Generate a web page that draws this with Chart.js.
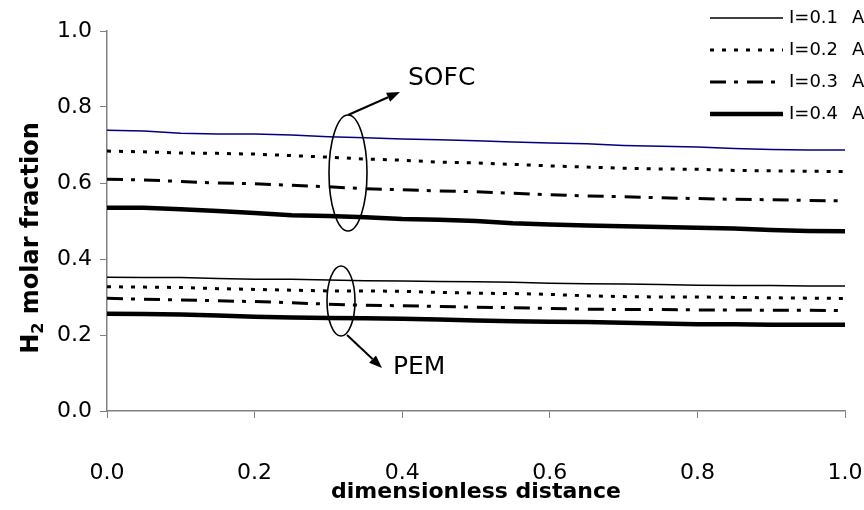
<!DOCTYPE html>
<html>
<head>
<meta charset="utf-8">
<script src="https://cdn.jsdelivr.net/npm/chart.js@4/dist/chart.umd.min.js"></script>
<style>
  html, body { margin: 0; padding: 0; background: #fff; }
  #chart { display: block; }
</style>
</head>
<body>
<canvas id="chart" width="864" height="510"></canvas>
<script>
// dimensionless distance along the channel
const distance = [0, 0.05, 0.1, 0.15, 0.2, 0.25, 0.3, 0.35, 0.4, 0.45, 0.5,
                  0.55, 0.6, 0.65, 0.7, 0.75, 0.8, 0.85, 0.9, 0.95, 1.0];

const currentLabels = ['I=0.1', 'I=0.2', 'I=0.3', 'I=0.4'];
const currentUnit = 'A/cm²';

// SOFC, H2 molar fraction
const sofcI01 = [0.739, 0.737, 0.731, 0.729, 0.729, 0.726, 0.722, 0.719, 0.716, 0.714, 0.711,
                 0.708, 0.705, 0.703, 0.699, 0.697, 0.695, 0.691, 0.688, 0.687, 0.687];
const sofcI02 = [0.684, 0.682, 0.679, 0.678, 0.676, 0.672, 0.668, 0.663, 0.660, 0.655, 0.653,
                 0.649, 0.645, 0.642, 0.639, 0.637, 0.636, 0.633, 0.632, 0.631, 0.630];
const sofcI03 = [0.610, 0.608, 0.604, 0.600, 0.598, 0.594, 0.590, 0.585, 0.582, 0.579, 0.577,
                 0.573, 0.569, 0.566, 0.564, 0.561, 0.559, 0.557, 0.556, 0.554, 0.553];
const sofcI04 = [0.535, 0.535, 0.531, 0.526, 0.521, 0.515, 0.513, 0.510, 0.505, 0.503, 0.500,
                 0.494, 0.491, 0.488, 0.486, 0.484, 0.482, 0.480, 0.476, 0.474, 0.473];

// PEM, H2 molar fraction
const pemI01 = [0.352, 0.351, 0.351, 0.349, 0.347, 0.347, 0.345, 0.343, 0.342, 0.341, 0.340,
                0.339, 0.336, 0.335, 0.334, 0.333, 0.331, 0.330, 0.330, 0.329, 0.329];
const pemI02 = [0.327, 0.326, 0.325, 0.322, 0.320, 0.318, 0.316, 0.316, 0.315, 0.312, 0.310,
                0.309, 0.307, 0.303, 0.301, 0.300, 0.300, 0.299, 0.298, 0.297, 0.296];
const pemI03 = [0.297, 0.294, 0.292, 0.290, 0.288, 0.285, 0.281, 0.278, 0.277, 0.275, 0.273,
                0.272, 0.270, 0.268, 0.267, 0.267, 0.266, 0.266, 0.265, 0.265, 0.264];
const pemI04 = [0.256, 0.255, 0.254, 0.251, 0.248, 0.246, 0.245, 0.244, 0.243, 0.241, 0.238,
                0.236, 0.235, 0.234, 0.232, 0.230, 0.228, 0.228, 0.227, 0.227, 0.227];

const FONT = '"DejaVu Sans", "Liberation Sans", Arial, sans-serif';

// line look per current density (same for both cells)
const lineStyles = [
    { width: 1.5, dash: [] },
    { width: 3, dash: [4, 8] },
    { width: 3, dash: [16, 8, 4, 9] },
    { width: 4.5, dash: [] },
];

const toPoints = (vals) => vals.map((v, i) => ({ x: distance[i], y: v }));

function makeSet(label, vals, idx, color) {
    const st = lineStyles[idx];
    return {
        label: label,
        data: toPoints(vals),
        borderColor: color,
        borderWidth: st.width,
        borderDash: st.dash,
        borderCapStyle: 'butt',
        pointRadius: 0,
        tension: 0,
        fill: false,
    };
}

// ellipses, arrows, SOFC / PEM text, y title with subscript, legend
const decorations = {
    id: 'decorations',
    afterDraw(chart) {
        const ctx = chart.ctx;
        ctx.save();
        ctx.strokeStyle = '#000';
        ctx.fillStyle = '#000';

        function arrow(x1, y1, x2, y2) {
            ctx.lineWidth = 2;
            ctx.setLineDash([]);
            const a = Math.atan2(y2 - y1, x2 - x1);
            const hl = 13, hw = 5;
            const bx = x2 - hl * Math.cos(a), by = y2 - hl * Math.sin(a);
            ctx.beginPath();
            ctx.moveTo(x1, y1);
            ctx.lineTo(bx, by);
            ctx.stroke();
            ctx.beginPath();
            ctx.moveTo(x2, y2);
            ctx.lineTo(bx + hw * Math.sin(a), by - hw * Math.cos(a));
            ctx.lineTo(bx - hw * Math.sin(a), by + hw * Math.cos(a));
            ctx.closePath();
            ctx.fill();
        }

        // SOFC group
        ctx.lineWidth = 1.6;
        ctx.setLineDash([]);
        ctx.beginPath();
        ctx.ellipse(348, 173, 19, 58, 0, 0, Math.PI * 2);
        ctx.stroke();
        arrow(348, 115, 400, 92);

        // PEM group
        ctx.lineWidth = 1.6;
        ctx.beginPath();
        ctx.ellipse(341, 301, 14, 35, 0, 0, Math.PI * 2);
        ctx.stroke();
        arrow(347, 335, 382, 368);

        ctx.font = '25px ' + FONT;
        ctx.textAlign = 'left';
        ctx.textBaseline = 'middle';
        ctx.fillText('SOFC', 408, 78);
        ctx.fillText('PEM', 393, 367);

        // y axis title: H2 molar fraction
        ctx.save();
        ctx.translate(30, 238);
        ctx.rotate(-Math.PI / 2);
        const big = 'bold 24px ' + FONT, small = 'bold 16px ' + FONT;
        ctx.font = big;
        const wH = ctx.measureText('H').width;
        const wRest = ctx.measureText(' molar fraction').width;
        ctx.font = small;
        const w2 = ctx.measureText('2').width;
        let x = -(wH + w2 + wRest) / 2;
        ctx.textBaseline = 'alphabetic';
        ctx.font = big;
        ctx.fillText('H', x, 8);
        x += wH;
        ctx.font = small;
        ctx.fillText('2', x, 13);
        x += w2;
        ctx.font = big;
        ctx.fillText(' molar fraction', x, 8);
        ctx.restore();

        // legend (top right, runs off the edge like the original)
        const rows = [18, 50, 82, 114];
        ctx.font = '18px ' + FONT;
        ctx.textBaseline = 'middle';
        currentLabels.forEach((lab, i) => {
            const st = lineStyles[i];
            ctx.lineWidth = st.width;
            ctx.setLineDash(st.dash);
            ctx.lineCap = 'butt';
            ctx.beginPath();
            ctx.moveTo(710, rows[i]);
            ctx.lineTo(783, rows[i]);
            ctx.stroke();
            ctx.setLineDash([]);
            ctx.fillText(lab, 789, rows[i]);
            ctx.fillText(currentUnit, 852, rows[i]);
        });
        ctx.restore();
    }
};

const axisGrey = '#808080';

new Chart(document.getElementById('chart').getContext('2d'), {
    type: 'line',
    data: {
        datasets: [
            makeSet('SOFC ' + currentLabels[0], sofcI01, 0, '#000080'),
            makeSet('SOFC ' + currentLabels[1], sofcI02, 1, '#000'),
            makeSet('SOFC ' + currentLabels[2], sofcI03, 2, '#000'),
            makeSet('SOFC ' + currentLabels[3], sofcI04, 3, '#000'),
            makeSet('PEM ' + currentLabels[0], pemI01, 0, '#000'),
            makeSet('PEM ' + currentLabels[1], pemI02, 1, '#000'),
            makeSet('PEM ' + currentLabels[2], pemI03, 2, '#000'),
            makeSet('PEM ' + currentLabels[3], pemI04, 3, '#000'),
        ]
    },
    options: {
        responsive: false,
        animation: false,
        devicePixelRatio: 1,
        layout: { padding: { top: 31, right: 19, left: 0, bottom: 0 } },
        plugins: {
            legend: { display: false },
            tooltip: { enabled: false },
        },
        scales: {
            x: {
                type: 'linear',
                min: 0,
                max: 1,
                ticks: {
                    stepSize: 0.2,
                    padding: 42,
                    color: '#000',
                    font: { family: FONT, size: 22 },
                    callback: (v) => v.toFixed(1),
                },
                grid: { display: true, drawOnChartArea: false, drawTicks: true, tickLength: 7, color: axisGrey },
                border: { display: true, color: axisGrey, width: 1.5 },
                title: {
                    display: true,
                    text: 'dimensionless distance',
                    color: '#000',
                    font: { family: FONT, size: 22, weight: 'bold' },
                    padding: { top: 0, bottom: 5 },
                },
                afterFit: (s) => { s.height = 99; s.paddingLeft = 0; s.paddingRight = 0; },
            },
            y: {
                min: 0,
                max: 1,
                ticks: {
                    stepSize: 0.2,
                    padding: 8,
                    color: '#000',
                    font: { family: FONT, size: 22 },
                    callback: (v) => v.toFixed(1),
                },
                grid: { display: true, drawOnChartArea: false, drawTicks: true, tickLength: 7, color: axisGrey },
                border: { display: true, color: axisGrey, width: 1.5 },
                afterFit: (s) => { s.width = 107; s.paddingTop = 0; s.paddingBottom = 0; },
            }
        }
    },
    plugins: [decorations]
});
</script>
</body>
</html>
